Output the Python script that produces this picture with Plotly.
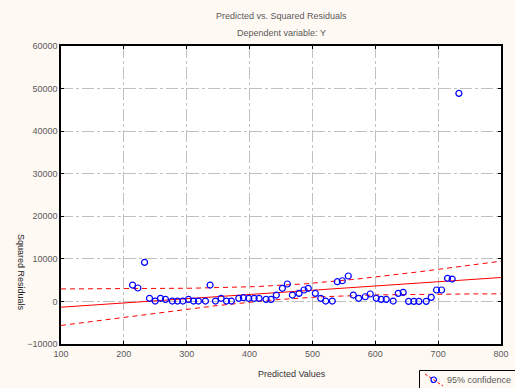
import numpy as np
import plotly.graph_objects as go

predicted = [213.8, 222.3, 232.9, 240.8, 249.9, 258.3, 266.2, 277.0, 285.3, 293.9,
             302.8, 310.8, 318.6, 329.8, 337.2, 345.7, 354.7, 363.2, 371.1, 382.8,
             390.2, 398.7, 407.2, 415.1, 426.2, 434.2, 442.6, 452.2, 460.1, 468.1,
             478.7, 486.6, 493.4, 504.6, 513.2, 521.1, 531.6, 539.5, 547.5, 557.0,
             565.0, 573.5, 584.0, 592.0, 601.5, 609.4, 617.4, 628.5, 636.5, 644.4,
             653.0, 661.4, 669.3, 681.0, 689.0, 697.5, 705.4, 715.0, 722.3, 733.0]
sq_resid = [3850, 3150, 9180, 730, 90, 730, 490, 90, 90, 90,
            490, 90, 90, 90, 3850, 90, 730, 90, 90, 730,
            870, 730, 730, 730, 490, 490, 1500, 3080, 4090, 1500,
            1900, 2680, 3080, 1900, 730, 90, 90, 4630, 4860, 5970,
            1500, 730, 1100, 1740, 730, 490, 490, 90, 1900, 2130,
            20, 20, 20, 20, 960, 2680, 2680, 5430, 5260, 48880]

x_ticks = [100, 200, 300, 400, 500, 600, 700, 800]
y_ticks = [-10000, 0, 10000, 20000, 30000, 40000, 50000, 60000]

title_1 = "Predicted vs. Squared Residuals"
title_2 = "Dependent variable: Y"
x_title = "Predicted Values"
y_title = "Squared Residuals"
legend_name = "95% confidence"

# Linear fit with 95% confidence band for the mean
x = np.array(predicted, dtype=float)
y = np.array(sq_resid, dtype=float)
n = len(x)
b1, b0 = np.polyfit(x, y, 1)
resid = y - (b0 + b1 * x)
s = np.sqrt(np.sum(resid ** 2) / (n - 2))
sxx = np.sum((x - x.mean()) ** 2)
t_crit = 2.0017  # t(0.975, df=58)
xf = np.linspace(x_ticks[0], x_ticks[-1], 201)
yf = b0 + b1 * xf
hw = t_crit * s * np.sqrt(1.0 / n + (xf - x.mean()) ** 2 / sxx)

BG = "#FFF9F4"
TXT = "#5a5a5a"
FONT = "Liberation Sans Narrow, Arial Narrow, sans-serif"

fig = go.Figure()
fig.add_trace(go.Scatter(x=xf, y=yf + hw, mode="lines", showlegend=False,
                         line=dict(color="#FF0000", width=1, dash="5px,4px"), hoverinfo="skip"))
fig.add_trace(go.Scatter(x=xf, y=yf - hw, mode="lines", showlegend=False,
                         line=dict(color="#FF0000", width=1, dash="5px,4px"), hoverinfo="skip"))
fig.add_trace(go.Scatter(x=xf, y=yf, mode="lines", showlegend=False,
                         line=dict(color="#FF0000", width=1), hoverinfo="skip"))
fig.add_trace(go.Scatter(x=predicted, y=sq_resid, mode="markers", showlegend=False,
                         marker=dict(symbol="circle-open", color="#0000FF", size=6,
                                     line=dict(width=1.2, color="#0000FF"))))

axis_common = dict(showline=True, linecolor="black", linewidth=1.5, mirror="ticks",
                   ticks="inside", ticklen=3, tickcolor="black",
                   showgrid=True, gridcolor="#c0c0c0", gridwidth=1, griddash="12px,3px,3px,3px",
                   zeroline=False, tickformat="d",
                   tickfont=dict(family=FONT, size=9, color=TXT))

fig.update_xaxes(range=[x_ticks[0], x_ticks[-1]], tickvals=x_ticks, **axis_common)
fig.update_yaxes(range=[y_ticks[0], y_ticks[-1]], tickvals=y_ticks, **axis_common)

PL, PW, PT, PH = 61, 440, 46, 298  # plot box in px, to place decorations


def px_(v):
    return (v - PL) / PW


def py(v):
    return (PT + PH - v) / PH


# Legend drawn as a box with a diagonal dashed line through an open circle
legend_shapes = [
    dict(type="rect", xref="paper", yref="paper", x0=px_(419.5), x1=px_(530),
         y0=py(400), y1=py(370.5), line=dict(color="black", width=1), fillcolor=BG),
    dict(type="line", xref="paper", yref="paper", x0=px_(425), y0=py(374),
         x1=px_(443), y1=py(386), line=dict(color="#FF0000", width=1, dash="3px,2px")),
    dict(type="circle", xref="paper", yref="paper", x0=px_(431), x1=px_(436.5),
         y0=py(382.5), y1=py(377), line=dict(color="#0000FF", width=1.2), fillcolor="rgba(0,0,0,0)"),
]

fig.update_layout(
    width=515, height=388,
    margin=dict(l=PL, r=515 - PL - PW, t=PT, b=388 - PT - PH, autoexpand=False),
    paper_bgcolor=BG, plot_bgcolor="white",
    font=dict(family=FONT, size=9, color=TXT),
    showlegend=False,
    shapes=legend_shapes,
    annotations=[
        dict(text=title_1, x=0.5, y=py(16), xref="paper", yref="paper",
             yanchor="middle", showarrow=False, font=dict(size=9)),
        dict(text=title_2, x=0.5, y=py(33), xref="paper", yref="paper",
             yanchor="middle", showarrow=False, font=dict(size=9)),
        dict(text=x_title, x=px_(292), y=py(374), xref="paper", yref="paper",
             yanchor="middle", xanchor="center", showarrow=False,
             font=dict(size=9, color="#333")),
        dict(text=y_title, x=px_(21), y=py(272), xref="paper", yref="paper",
             xanchor="center", yanchor="middle", textangle=90, showarrow=False,
             font=dict(size=9, color="#222")),
        dict(text=legend_name, x=px_(445), y=py(379.5), xref="paper", yref="paper",
             xanchor="left", yanchor="middle", showarrow=False,
             font=dict(size=9, color=TXT)),
    ],
)

fig.write_html("out.html", config={"displayModeBar": False},
               post_script="document.body.style.margin='0';document.body.style.background='#FFF9F4';")
